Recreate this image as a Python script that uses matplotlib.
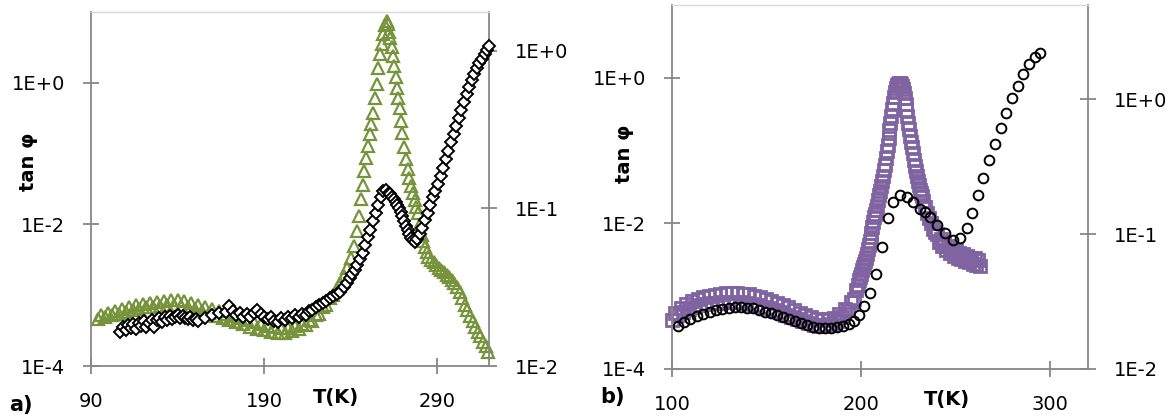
import matplotlib
matplotlib.use("Agg")
import matplotlib.pyplot as plt
from matplotlib.ticker import NullLocator

# ---------------- data: panel a ----------------
a_T_black = [107, 108.5, 110, 111.5, 113, 114.5, 116, 117.5, 119, 120.5,
             122, 123.5, 125, 126.5, 128, 129.5, 131, 132.5, 134, 135.5,
             137, 138.5, 140, 141.5, 143, 144.5, 146, 147.5, 149, 150.5,
             152, 156, 160, 164, 168, 170, 172, 174, 176, 178,
             180, 182, 184, 186, 188, 190, 192, 194, 196, 198,
             200, 202, 204, 206, 208, 210, 212, 214, 216, 218,
             220, 222, 224, 226, 228, 230, 232, 234, 236, 238,
             239.5, 241, 242.5, 244, 245.5, 247, 248.5, 250, 251.5, 253,
             254.5, 256, 257.5, 259, 260.5, 262, 263, 264, 265, 266,
             267, 268, 269, 270, 271, 272, 273, 274, 275, 276,
             277.2, 278.5, 280, 281.5, 283, 284.5, 286, 287.5, 289, 290.5,
             292, 293.5, 295, 296.5, 298, 299.5, 301, 302.5, 304, 305.5,
             307, 308.5, 310, 311.5, 313, 314.5, 316, 317.5, 319, 320]
a_tan_black = [3.0e-4, 3.5e-4, 3.2e-4, 3.8e-4, 3.4e-4, 3.9e-4, 3.3e-4, 4.1e-4, 3.7e-4, 4.3e-4,
               3.6e-4, 4.0e-4, 4.5e-4, 3.5e-4, 4.4e-4, 4.8e-4, 4.2e-4, 4.9e-4, 4.5e-4, 5.1e-4,
               4.6e-4, 5.0e-4, 5.3e-4, 4.7e-4, 5.1e-4, 4.8e-4, 4.6e-4, 4.9e-4, 4.4e-4, 4.6e-4,
               4.3e-4, 4.7e-4, 5.2e-4, 5.6e-4, 5.8e-4, 7.0e-4, 6.0e-4, 5.2e-4, 5.6e-4, 5.0e-4,
               5.4e-4, 4.9e-4, 5.6e-4, 6.1e-4, 5.5e-4, 5.0e-4, 4.6e-4, 4.9e-4, 4.3e-4, 4.2e-4,
               4.8e-4, 4.5e-4, 5.0e-4, 4.7e-4, 5.2e-4, 4.9e-4, 5.5e-4, 5.3e-4, 6.0e-4, 6.2e-4,
               6.8e-4, 7.2e-4, 7.7e-4, 8.4e-4, 9.1e-4, 9.9e-4, 1.05e-3, 1.12e-3, 1.30e-3, 1.50e-3,
               1.75e-3, 2.00e-3, 2.30e-3, 2.65e-3, 3.2e-3, 4.0e-3, 5.2e-3, 6.6e-3, 8.4e-3, 1.10e-2,
               1.45e-2, 1.90e-2, 2.45e-2, 2.95e-2, 3.05e-2, 2.80e-2, 2.65e-2, 2.45e-2, 2.25e-2, 2.05e-2,
               1.85e-2, 1.70e-2, 1.50e-2, 1.30e-2, 1.12e-2, 9.6e-3, 8.3e-3, 7.3e-3, 6.5e-3, 6.0e-3,
               5.6e-3, 6.3e-3, 7.3e-3, 8.9e-3, 1.15e-2, 1.45e-2, 1.85e-2, 2.40e-2, 3.00e-2, 3.70e-2,
               4.80e-2, 6.3e-2, 8.3e-2, 0.110, 0.145, 0.190, 0.245, 0.315, 0.41, 0.53,
               0.69, 0.88, 1.10, 1.35, 1.60, 1.88, 2.20, 2.55, 2.95, 3.32]

a_T_green = [94, 96, 98, 100, 102, 104, 106, 108, 110, 112,
             114, 116, 118, 120, 122, 124, 126, 128, 130, 132,
             134, 136, 138, 140, 142, 144, 146, 148, 150, 152,
             154, 156, 158, 160, 162, 164, 166, 168, 170, 172,
             174, 176, 178, 180, 182, 184, 186, 188, 190, 192,
             194, 196, 198, 200, 202, 204, 206, 208, 210, 212,
             214, 216, 218, 220, 222, 224, 226, 228, 230, 232,
             234, 236, 238, 240, 242, 244, 245, 246, 247, 248,
             249, 250, 251, 252, 253, 254, 255, 256, 257, 258,
             259, 260, 260.8, 261.5, 262.3, 263, 263.8, 264.5, 265.3, 266,
             266.8, 267.5, 268.3, 269, 270, 271, 272, 273, 274, 275,
             276, 277, 278, 279, 280, 281, 282, 283, 284, 285,
             286.5, 288, 289.5, 291, 292.5, 294, 295.5, 297, 298.5, 300,
             301.5, 303, 304.5, 306, 307.5, 309, 310.5, 312, 313.5, 315,
             316.5, 318, 319.6]
a_tan_green = [0.0200, 0.0212, 0.0205, 0.0218, 0.0210, 0.0224, 0.0215, 0.0230, 0.0221, 0.0236,
               0.0226, 0.0242, 0.0231, 0.0247, 0.0235, 0.0252, 0.0238, 0.0256, 0.0240, 0.0260,
               0.0243, 0.0262, 0.0244, 0.0261, 0.0240, 0.0258, 0.0236, 0.0252, 0.0230, 0.0245,
               0.0223, 0.0238, 0.0216, 0.0230, 0.0209, 0.0222, 0.0202, 0.0214, 0.0196, 0.0207,
               0.0190, 0.0201, 0.0184, 0.0195, 0.0178, 0.0189, 0.0172, 0.0184, 0.0168, 0.0179,
               0.0164, 0.0176, 0.0162, 0.0174, 0.0163, 0.0175, 0.0166, 0.0179, 0.0172, 0.0186,
               0.0181, 0.0196, 0.0194, 0.0212, 0.0214, 0.0236, 0.0243, 0.0268, 0.0283, 0.0310,
               0.0336, 0.0370, 0.0418, 0.0485, 0.0575, 0.0720, 0.090, 0.115, 0.140, 0.172,
               0.210, 0.250, 0.295, 0.345, 0.405, 0.500, 0.610, 0.780, 0.950, 1.10,
               1.27, 1.45, 1.55, 1.48, 1.32, 1.20, 1.05, 0.92, 0.80, 0.68,
               0.58, 0.50, 0.43, 0.36, 0.30, 0.245, 0.205, 0.178, 0.155, 0.138,
               0.125, 0.113, 0.102, 0.093, 0.080, 0.068, 0.062, 0.057, 0.053, 0.049,
               0.0471, 0.0455, 0.0440, 0.0420, 0.0405, 0.0392, 0.0380, 0.0365, 0.0350, 0.0336,
               0.0316, 0.0295, 0.0270, 0.0245, 0.0226, 0.0207, 0.0192, 0.0177, 0.0165, 0.0154,
               0.0143, 0.0133, 0.0123]

# ---------------- data: panel b ----------------
b_T_black = [103.2, 106.3, 109.5, 113.2, 116.4, 120.1, 123.3, 126.5, 130.2, 133.3,
             136.5, 139.7, 142.9, 146.0, 149.2, 152.4, 155.6, 158.7, 161.9, 165.1,
             168.3, 171.4, 174.6, 177.8, 181.0, 184.1, 187.3, 190.5, 193.7, 196.3,
             198.9, 201.6, 204.8, 207.9, 211.1, 214.3, 216.9, 220.6, 224.3, 227.5,
             231.2, 233.9, 236.5, 240.2, 244.4, 248.7, 252.4, 256.1, 258.7, 261.9,
             264.6, 267.7, 270.9, 274.1, 276.7, 279.9, 283.1, 285.7, 288.9, 292.1, 294.7]
b_tan_black = [3.88e-4, 4.41e-4, 4.84e-4, 5.32e-4, 5.66e-4, 6.04e-4, 6.43e-4, 6.64e-4, 6.86e-4, 7.07e-4,
               7.07e-4, 6.86e-4, 6.86e-4, 6.43e-4, 6.04e-4, 5.85e-4, 5.50e-4, 5.15e-4, 4.84e-4, 4.55e-4,
               4.27e-4, 4.01e-4, 3.76e-4, 3.65e-4, 3.65e-4, 3.65e-4, 3.76e-4, 3.88e-4, 4.13e-4, 4.55e-4,
               5.50e-4, 7.30e-4, 1.10e-3, 2.00e-3, 4.69e-3, 1.17e-2, 1.94e-2, 2.42e-2, 2.27e-2, 1.94e-2,
               1.60e-2, 1.42e-2, 1.21e-2, 9.40e-3, 7.30e-3, 5.85e-3, 6.24e-3, 8.55e-3, 1.37e-2, 2.42e-2,
               4.27e-2, 7.53e-2, 0.125, 0.207, 0.332, 0.532, 0.776, 1.13, 1.55, 1.94, 2.20]

b_T_purple = [100, 101.5, 103, 104.5, 106, 107.5, 109, 110.5, 112, 113.5,
              115, 116.5, 118, 119.5, 121, 122.5, 124, 125.5, 127, 128.5,
              130, 131.5, 133, 134.5, 136, 137.5, 139, 140.5, 142, 143.5,
              145, 146.5, 148, 149.5, 151, 152.5, 154, 155.5, 157, 158.5,
              160, 161.5, 163, 164.5, 166, 167.5, 169, 170.5, 172, 173.5,
              175, 176.5, 178, 179.5, 181, 182.5, 184, 185.5, 187, 188.5,
              190, 191.5, 193, 194.5, 196, 197.5, 198.5, 199, 199.5, 200,
              200.5, 201, 201.5, 202, 202.5, 203, 203.5, 204, 204.5, 205,
              205.5, 206, 206.5, 207, 207.5, 208, 208.5, 209, 209.5, 210,
              210.5, 211, 211.5, 212, 212.5, 213, 213.5, 214, 214.5, 215,
              215.5, 216, 216.5, 217, 217.5, 218, 218.5, 219, 219.5, 220,
              220.5, 221, 221.5, 222, 222.5, 223, 223.5, 224, 224.5, 225,
              225.5, 226, 226.5, 227, 227.5, 228, 228.5, 229, 229.5, 230,
              230.5, 231, 231.5, 232, 233, 234, 235, 236, 237, 238,
              239, 240, 241, 242, 243, 244, 245, 246, 247, 248,
              249, 250, 251, 252, 253, 254, 255, 256, 257, 258,
              259, 260, 261, 262, 263]
b_tan_purple = [0.0232, 0.0262, 0.0250, 0.0284, 0.0266, 0.0305, 0.0280, 0.0320, 0.0290, 0.0332,
                0.0298, 0.0341, 0.0304, 0.0350, 0.0308, 0.0356, 0.0311, 0.0360, 0.0312, 0.0363,
                0.0313, 0.0364, 0.0313, 0.0363, 0.0312, 0.0362, 0.0309, 0.0357, 0.0304, 0.0350,
                0.0297, 0.0342, 0.0290, 0.0333, 0.0282, 0.0322, 0.0273, 0.0311, 0.0263, 0.0298,
                0.0253, 0.0286, 0.0243, 0.0274, 0.0234, 0.0262, 0.0226, 0.0252, 0.0219, 0.0243,
                0.0213, 0.0236, 0.0210, 0.0232, 0.0211, 0.0233, 0.0215, 0.0240, 0.0226, 0.0254,
                0.0244, 0.0278, 0.0275, 0.0315, 0.0330, 0.0385, 0.0420, 0.0455, 0.0480, 0.0510,
                0.0540, 0.0568, 0.0600, 0.0635, 0.0670, 0.0715, 0.0780, 0.0830, 0.0890, 0.0950,
                0.102, 0.112, 0.124, 0.133, 0.142, 0.150, 0.163, 0.179, 0.195, 0.210,
                0.228, 0.248, 0.272, 0.298, 0.328, 0.365, 0.410, 0.460, 0.520, 0.590,
                0.665, 0.750, 0.840, 0.940, 1.04, 1.13, 1.21, 1.27, 1.30, 1.31,
                1.31, 1.29, 1.26, 1.20, 1.11, 1.02, 0.92, 0.83, 0.75, 0.665,
                0.60, 0.535, 0.485, 0.441, 0.400, 0.353, 0.322, 0.294, 0.270, 0.248,
                0.230, 0.214, 0.203, 0.193, 0.175, 0.160, 0.143, 0.131, 0.120, 0.110,
                0.103, 0.100, 0.088, 0.092, 0.081, 0.086, 0.076, 0.082, 0.072, 0.078,
                0.069, 0.076, 0.067, 0.073, 0.065, 0.071, 0.063, 0.069, 0.062, 0.067,
                0.060, 0.066, 0.059, 0.064, 0.058]

# ---------------- ticks / labels ----------------
a_xticks = [90, 190, 290]
b_xticks = [100, 200, 300]
left_yticks = [1e-4, 1e-2, 1e0]
left_ylabels = ["1E-4", "1E-2", "1E+0"]
right_yticks = [1e-2, 1e-1, 1e0]
right_ylabels = ["1E-2", "1E-1", "1E+0"]

GRAY = "#878787"
LIGHT = "#d9d9d9"
GREEN = "#77933C"
PURPLE = "#8064A2"
FS = 14

plt.rcParams['font.family'] = ['DejaVu Sans']

fig = plt.figure(figsize=(11.74, 4.18), dpi=100)
W, H = 1174, 418


def frac(l, r, t, b):
    return [l / W, 1 - b / H, (r - l) / W, (b - t) / H]


def style(ax, tw, xlim, xticks, left_ylim, right_ylim):
    ax.set_yscale('log')
    tw.set_yscale('log')
    ax.set_xlim(*xlim)
    ax.set_ylim(*left_ylim)
    tw.set_ylim(*right_ylim)
    ax.set_xticks(xticks)
    ax.set_xticklabels([str(v) for v in xticks])
    ax.set_yticks(left_yticks, left_ylabels)
    tw.set_yticks(right_yticks, right_ylabels)
    ax.yaxis.set_minor_locator(NullLocator())
    tw.yaxis.set_minor_locator(NullLocator())
    for s in ['left', 'bottom']:
        ax.spines[s].set_color(GRAY)
        ax.spines[s].set_linewidth(1.3)
    ax.spines['top'].set_color(LIGHT)
    ax.spines['top'].set_linewidth(1.0)
    ax.spines['right'].set_visible(False)
    for s in ['left', 'bottom', 'top']:
        tw.spines[s].set_visible(False)
    tw.spines['right'].set_color(GRAY)
    tw.spines['right'].set_linewidth(1.3)
    ax.tick_params(axis='both', direction='inout', length=11, width=1.3, color=GRAY,
                   labelsize=FS, pad=13, labelcolor='black')
    tw.tick_params(axis='y', direction='inout', length=11, width=1.3, color=GRAY,
                   labelsize=FS, pad=13, labelcolor='black')
    ax.set_zorder(2)
    tw.set_zorder(1)
    ax.patch.set_visible(False)


# ---- panel a ----
axa = fig.add_axes(frac(91, 489, 12, 366))
twa = axa.twinx()
twa.plot(a_T_green, a_tan_green, linestyle='none', marker='^', ms=8, mfc='none',
         mec=GREEN, mew=1.6, clip_on=False)
axa.plot(a_T_black, a_tan_black, linestyle='none', marker='D', ms=6.5, mfc='white',
         mec='black', mew=1.4, clip_on=False)
style(axa, twa, (90, 320), a_xticks, (1e-4, 1e1), (1e-2, 10 ** 0.245))

# ---- panel b ----
axb = fig.add_axes(frac(672, 1088, 5, 369))
twb = axb.twinx()
twb.plot(b_T_purple, b_tan_purple, linestyle='none', marker='s', ms=8, mfc='none',
         mec=PURPLE, mew=2.0, clip_on=False)
axb.plot(b_T_black, b_tan_black, linestyle='none', marker='o', ms=7, mfc='none',
         mec='black', mew=1.4, clip_on=False)
style(axb, twb, (100, 320), b_xticks, (1e-4, 1e1), (1e-2, 5.0))

# ---- texts ----
fig.text(28 / W, 1 - 162 / H, "tan φ", rotation=90, fontsize=FS, fontweight='bold',
         ha='center', va='center')
fig.text(336 / W, 1 - 398 / H, "T(K)", fontsize=FS, fontweight='bold', ha='center', va='center')
fig.text(21 / W, 1 - 405 / H, "a)", fontsize=FS + 1, fontweight='bold', ha='center', va='center')

fig.text(624 / W, 1 - 154 / H, "tan φ", rotation=90, fontsize=FS, fontweight='bold',
         ha='center', va='center')
fig.text(947 / W, 1 - 400 / H, "T(K)", fontsize=FS, fontweight='bold', ha='center', va='center')
fig.text(613 / W, 1 - 397 / H, "b)", fontsize=FS + 1, fontweight='bold', ha='center', va='center')

fig.savefig("out.png", dpi=100)
